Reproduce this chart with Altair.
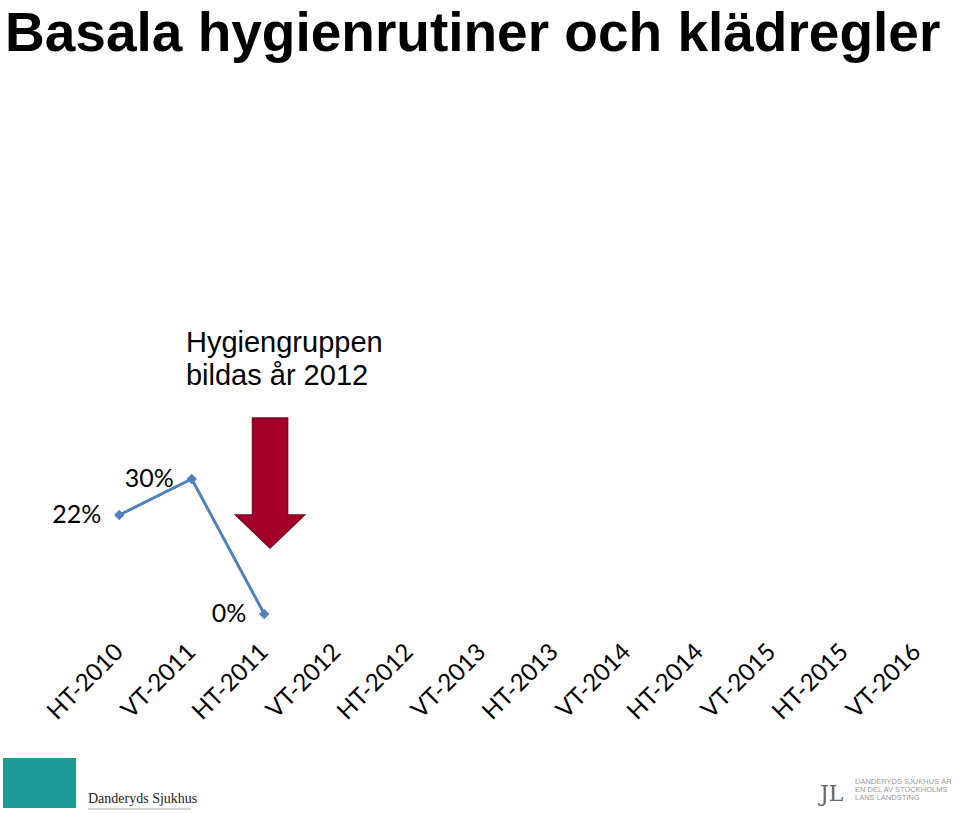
import altair as alt
import pandas as pd

# ---- data ----
periods = ["HT-2010", "VT-2011", "HT-2011", "VT-2012", "HT-2012", "VT-2013",
           "HT-2013", "VT-2014", "HT-2014", "VT-2015", "HT-2015", "VT-2016"]
measured_periods = ["HT-2010", "VT-2011", "HT-2011"]
shares = [22, 30, 0]

title_text = "Basala hygienrutiner och klädregler"
note_lines = ["Hygiengruppen", "bildas år 2012"]
note_pos_x = [0.92]     # in period-index units
note_pos_y = [58.2]     # in percent units
arrow_pos_x = [2.08]
arrow_pos_y = [29.1]

brand_text = "Danderyds Sjukhus"
county_lines = ["DANDERYDS SJUKHUS ÄR", "EN DEL AV STOCKHOLMS", "LÄNS LANDSTING"]

# ---- tables ----
df = pd.DataFrame({
    "idx": [periods.index(p) for p in measured_periods],
    "period": measured_periods,
    "share": shares,
    "label": [f"{v}%" for v in shares],
})
note_df = pd.DataFrame({"x": note_pos_x, "y": note_pos_y, "t": ["\n".join(note_lines)]})
arrow_df = pd.DataFrame({"x": arrow_pos_x, "y": arrow_pos_y})
one = pd.DataFrame({"k": [0]})

x_scale = alt.Scale(domain=[-0.5, len(periods) - 0.5], nice=False, zero=False)
y_scale = alt.Scale(domain=[0, 100], nice=False)
label_expr = "[" + ",".join(f"'{p}'" for p in periods) + "][datum.value]"

x_axis = alt.Axis(values=list(range(len(periods))), labelExpr=label_expr,
                  labelAngle=315, labelAlign="right", labelBaseline="middle",
                  labelFont="Lato", labelFontSize=24, labelColor="black",
                  labelPadding=34, domain=False, ticks=False, grid=False,
                  title=None, labelOverlap=False)

blue = "#4F81BD"
base = alt.Chart(df).encode(
    x=alt.X("idx:Q", scale=x_scale, axis=x_axis),
    y=alt.Y("share:Q", scale=y_scale, axis=None),
)
line = base.mark_line(color=blue, strokeWidth=3)
pts = base.mark_point(shape="diamond", filled=True, color=blue, size=110, opacity=1)
labels = base.mark_text(align="right", baseline="middle", dx=-18, font="Lato",
                        fontSize=25, color="black").encode(text="label:N")

arrow_path = "M-0.27,-1L0.27,-1L0.27,0.49L0.53,0.49L0,1L-0.53,0.49L-0.27,0.49Z"
arrow = alt.Chart(arrow_df).mark_point(shape=arrow_path, filled=True, size=16900,
                                       color="#A5002A", stroke="#7E0A1F",
                                       strokeWidth=1.5, opacity=1).encode(
    x=alt.X("x:Q", scale=x_scale), y=alt.Y("y:Q", scale=y_scale))

note = alt.Chart(note_df).mark_text(align="left", baseline="alphabetic",
                                    font="Liberation Sans", fontSize=29,
                                    lineBreak="\n", lineHeight=33,
                                    color="black").encode(
    x=alt.X("x:Q", scale=x_scale), y=alt.Y("y:Q", scale=y_scale), text="t:N")

# page title (placed above the plot area)
title = alt.Chart(one).mark_text(text=title_text, align="left", baseline="alphabetic",
                                 font="Liberation Sans", fontSize=55, fontWeight="bold",
                                 color="black").encode(x=alt.value(-78), y=alt.value(-113))

# footer logos (decoration)
teal = alt.Chart(one).mark_rect(color="#1B9B95").encode(
    x=alt.value(-80), x2=alt.value(-7), y=alt.value(594), y2=alt.value(644))
brand = alt.Chart(one).mark_text(text=brand_text, align="left", baseline="alphabetic",
                                 font="Liberation Serif", fontSize=14,
                                 color="#222").encode(x=alt.value(5), y=alt.value(639))
brand_rule = alt.Chart(one).mark_rule(color="#aaa", strokeWidth=1).encode(
    x=alt.value(5), x2=alt.value(108), y=alt.value(645))
county_sym = alt.Chart(one).mark_text(text="JL", align="left", baseline="alphabetic",
                                      font="DejaVu Serif", fontSize=22,
                                      color="#666").encode(x=alt.value(737), y=alt.value(637))
county = alt.Chart(one).mark_text(text="\n".join(county_lines), align="left",
                                  baseline="alphabetic", font="Liberation Sans",
                                  fontSize=7.5, lineBreak="\n", lineHeight=8,
                                  color="#9a9a9a").encode(x=alt.value(772), y=alt.value(620))

chart = alt.layer(line, pts, labels, arrow, note, title, teal, brand, brand_rule,
                  county_sym, county).properties(
    width=870, height=450,
    padding={"left": 83, "top": 164, "right": 7, "bottom": 199},
    autosize=alt.AutoSizeParams(type="none"),
    background="white",
).configure_view(stroke=None)

chart.save("out.html", embed_options={"renderer": "svg", "actions": False})
